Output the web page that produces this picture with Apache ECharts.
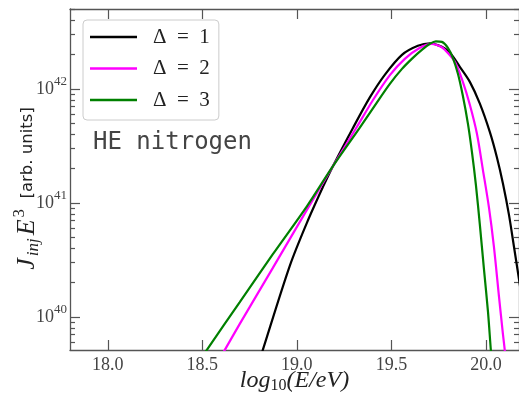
<!DOCTYPE html>
<html><head><meta charset="utf-8">
<script src="https://cdn.jsdelivr.net/npm/echarts@6/dist/echarts.min.js"></script>
<style>html,body{margin:0;padding:0;background:#fff}#c{width:519px;height:396px}</style>
</head><body><div id="c"></div><script>
// Tick labels
const xTicks = [18.0, 18.5, 19.0, 19.5, 20.0];
const yDecades = [40, 41, 42]; // exponents of the labelled y ticks (10^n)
const seriesNames = ['Δ  =  1', 'Δ  =  2', 'Δ  =  3'];
const annotation = 'HE nitrogen';

// Series values: x = log10(E/eV), y = log10(J_inj E^3)
const delta1X =    [18.75, 18.820, 18.963, 19.053, 19.138, 19.190, 19.296, 19.386, 19.466, 19.556, 19.640, 19.704, 19.767, 19.810, 19.862, 19.915, 19.968, 20.021, 20.058, 20.090, 20.122, 20.148, 20.175, 20.20];
const delta1LogJ = [39.34, 39.711, 40.45, 40.825, 41.140, 41.320, 41.655, 41.925, 42.125, 42.298, 42.377, 42.399, 42.368, 42.316, 42.193, 42.061, 41.870, 41.620, 41.400, 41.170, 40.895, 40.620, 40.330, 40.05];

const delta2X =    [18.58, 18.619, 18.698, 18.873, 19.053, 19.190, 19.317, 19.402, 19.492, 19.571, 19.651, 19.714, 19.757, 19.783, 19.836, 19.878, 19.915, 19.952, 19.984, 20.016, 20.042, 20.069, 20.090, 20.101, 20.115];
const delta2LogJ = [39.60, 39.711, 39.939, 40.430, 40.939, 41.320, 41.665, 41.900, 42.120, 42.263, 42.360, 42.395, 42.373, 42.342, 42.237, 42.061, 41.860, 41.610, 41.290, 40.960, 40.620, 40.180, 39.850, 39.690, 39.45];

const delta3X =    [18.48, 18.524, 18.698, 18.873, 19.053, 19.190, 19.333, 19.423, 19.492, 19.556, 19.608, 19.661, 19.704, 19.735, 19.767, 19.799, 19.825, 19.852, 19.878, 19.905, 19.926, 19.947, 19.968, 19.989, 20.011, 20.026, 20.037];
const delta3LogJ = [39.60, 39.711, 40.130, 40.550, 40.970, 41.320, 41.660, 41.880, 42.044, 42.175, 42.263, 42.342, 42.395, 42.417, 42.412, 42.360, 42.272, 42.132, 41.939, 41.693, 41.447, 41.158, 40.807, 40.430, 40.044, 39.711, 39.49];

const seriesColors = ['#000000', '#ff00ff', '#008000'];

// ---- build ----
const X_MIN = 17.8, X_MAX = 20.175, Y_MIN = 39.71, Y_MAX = 42.70;
const minorY = [];
for (let n = 39; n <= 42; n++) for (let m = 2; m <= 9; m++) {
  const v = n + Math.log10(m);
  if (v > Y_MIN && v < Y_MAX) minorY.push(v);
}
const axisColor = '#555';
const zip = (xs, ys) => xs.map((x, i) => [x, ys[i]]);
const allData = [zip(delta1X, delta1LogJ), zip(delta2X, delta2LogJ), zip(delta3X, delta3LogJ)];

function yAx(pos, ticks, len, showLine, showLabel, extra) {
  return Object.assign({
    type: 'value', min: Y_MIN, max: Y_MAX, position: pos,
    axisLine: { show: showLine, lineStyle: { color: axisColor, width: 1.3 } },
    axisTick: { show: true, inside: true, length: len, customValues: ticks, lineStyle: { color: axisColor, width: 1.2 } },
    axisLabel: { show: showLabel, customValues: ticks },
    splitLine: { show: false }
  }, extra || {});
}

const chart = echarts.init(document.getElementById('c'), null, { renderer: 'canvas' });
chart.setOption({
  animation: false,
  backgroundColor: '#fff',
  grid: { left: 70, top: 9, right: 0, bottom: 46, containLabel: false, outerBoundsMode: 'none' },
  legend: {
    orient: 'vertical', left: 83, top: 20,
    padding: [6, 9, 9, 7],
    itemGap: 9.5, itemWidth: 47, itemHeight: 2.5, icon: 'rect',
    backgroundColor: 'rgba(255,255,255,0.85)', borderColor: '#cccccc', borderWidth: 1, borderRadius: 4,
    textStyle: { fontFamily: 'Liberation Serif', fontSize: 21, lineHeight: 22, color: '#222', padding: [0, 0, 0, 11] },
    data: seriesNames
  },
  xAxis: [
    {
      type: 'value', min: X_MIN, max: X_MAX, position: 'bottom',
      axisLine: { show: true, onZero: false, lineStyle: { color: axisColor, width: 1.3 } },
      axisTick: { show: true, inside: true, length: 10, customValues: xTicks, lineStyle: { color: axisColor, width: 1.2 } },
      axisLabel: { customValues: xTicks, formatter: v => v.toFixed(1), margin: 6, fontFamily: 'Liberation Serif', fontSize: 18, color: '#444' },
      splitLine: { show: false },
      name: '{i|log}{s|10}{i|(E/eV)}', nameLocation: 'middle', nameGap: 18, nameMoveOverlap: false,
      nameTextStyle: { rich: {
        i: { fontFamily: 'Liberation Serif', fontStyle: 'italic', fontSize: 24, color: '#222' },
        s: { fontFamily: 'Liberation Serif', fontSize: 16, color: '#222', padding: [10, 0, 0, 0] }
      } }
    },
    {
      type: 'value', min: X_MIN, max: X_MAX, position: 'top',
      axisLine: { show: true, onZero: false, lineStyle: { color: axisColor, width: 1.3 } },
      axisTick: { show: true, inside: true, length: 10, customValues: xTicks, lineStyle: { color: axisColor, width: 1.2 } },
      axisLabel: { show: false, customValues: xTicks },
      splitLine: { show: false }
    }
  ],
  yAxis: [
    yAx('left', yDecades, 10, true, true, {
      axisLabel: {
        show: true, customValues: yDecades, margin: 3,
        formatter: v => '{b|10}{s|' + Math.round(v) + '}',
        rich: {
          b: { fontFamily: 'Liberation Serif', fontSize: 18, color: '#444' },
          s: { fontFamily: 'Liberation Serif', fontSize: 13, color: '#444', padding: [0, 0, 15, 0] }
        }
      },
      name: '{j|J}{sub|inj}{j|E}{sup|3}{n|  [arb. units]}{sp| }', nameLocation: 'middle', nameGap: 26, nameRotate: 90, nameMoveOverlap: false,
      nameTextStyle: { rich: {
        j: { fontFamily: 'Liberation Serif', fontStyle: 'italic', fontSize: 26, color: '#222', padding: [0, 2, 0, 0] },
        sub: { fontFamily: 'Liberation Serif', fontStyle: 'italic', fontSize: 17, color: '#222', padding: [12, 3, 0, 0] },
        sup: { fontFamily: 'Liberation Serif', fontSize: 17, color: '#222', padding: [0, 0, 16, 0] },
        n: { fontFamily: 'DejaVu Sans', fontSize: 16.5, color: '#222' },
        sp: { width: 18 }
      } }
    }),
    yAx('left', minorY, 5, false, false),
    yAx('right', yDecades, 10, true, false),
    yAx('right', minorY, 5, false, false)
  ],
  graphic: [{
    type: 'text', left: 93, top: 131, z: 100,
    style: { text: annotation, font: '24px "DejaVu Sans Mono"', fill: '#444' }
  }],
  series: seriesNames.map((name, i) => ({
    name, type: 'line', xAxisIndex: 0, yAxisIndex: 0,
    data: allData[i], smooth: 0.3, symbol: 'none', clip: true,
    lineStyle: { color: seriesColors[i], width: 2.2 }, itemStyle: { color: seriesColors[i] }
  }))
});
</script></body></html>
